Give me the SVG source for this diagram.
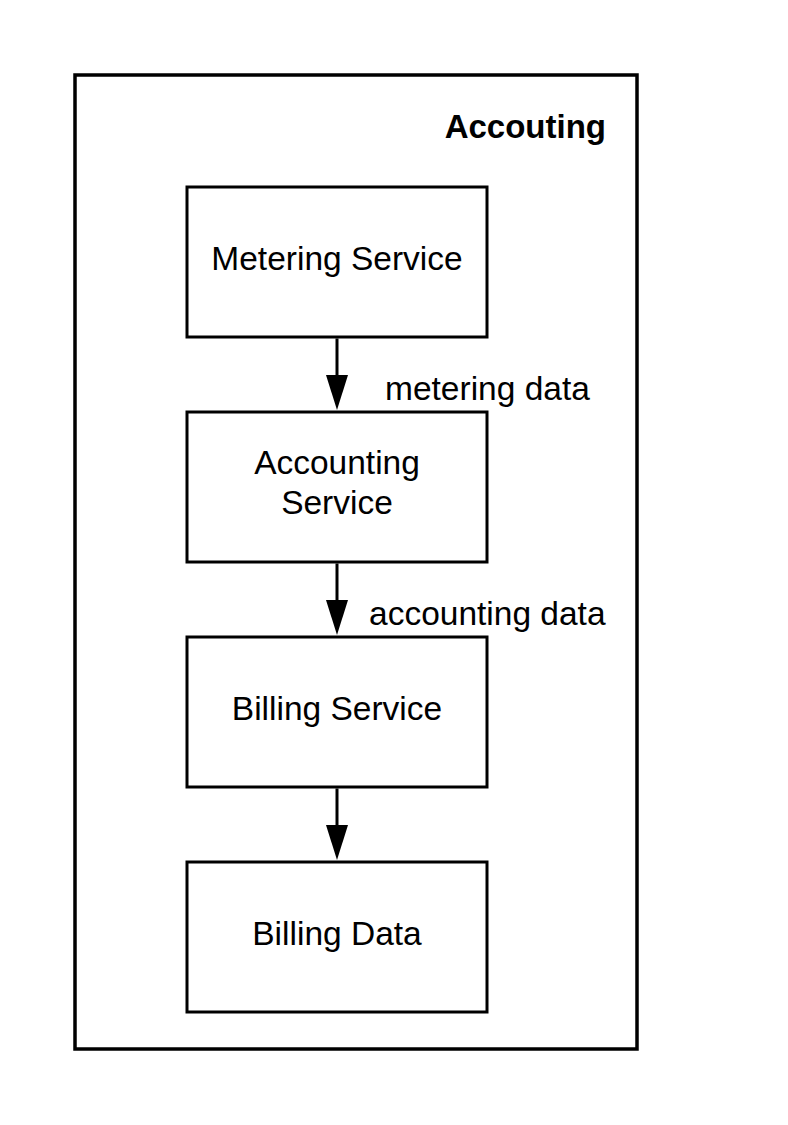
<svg xmlns="http://www.w3.org/2000/svg" width="788" height="1125" viewBox="0 0 788 1125">
<style>
.frame{fill:#fff;stroke:#000;stroke-width:3.5}
.box{fill:#fff;stroke:#000;stroke-width:3}
.t{font-family:"Liberation Sans",Arial,sans-serif;font-size:33.5px;fill:#000}
.c{text-anchor:middle}
.b{font-weight:bold;font-size:33px}
.edge{stroke:#000;stroke-width:3;fill:none}
</style>
<rect width="788" height="1125" fill="#fff"/>
<g id="container">
<rect class="frame" x="75" y="75" width="562" height="974"/>
<text class="t b" x="606" y="138" text-anchor="end">Accouting</text>
</g>
<g id="metering-service">
<rect class="box" x="187" y="187" width="300" height="150"/>
<text class="t c" x="337" y="270">Metering Service</text>
</g>
<g id="accounting-service">
<rect class="box" x="187" y="412" width="300" height="150"/>
<text class="t c" x="337" y="474">Accounting</text>
<text class="t c" x="337" y="514">Service</text>
</g>
<g id="billing-service">
<rect class="box" x="187" y="637" width="300" height="150"/>
<text class="t c" x="337" y="720">Billing Service</text>
</g>
<g id="billing-data">
<rect class="box" x="187" y="862" width="300" height="150"/>
<text class="t c" x="337" y="945">Billing Data</text>
</g>
<g id="connectors">
<path class="edge" d="M337,338.5 L337,375"/>
<path d="M326,375 L348,375 L337,410 Z" fill="#000"/>
<path class="edge" d="M337,563.5 L337,600"/>
<path d="M326,600 L348,600 L337,635 Z" fill="#000"/>
<path class="edge" d="M337,788.5 L337,825"/>
<path d="M326,825 L348,825 L337,860 Z" fill="#000"/>
<text class="t" x="385" y="400">metering data</text>
<text class="t" x="369" y="625">accounting data</text>
</g>
</svg>
